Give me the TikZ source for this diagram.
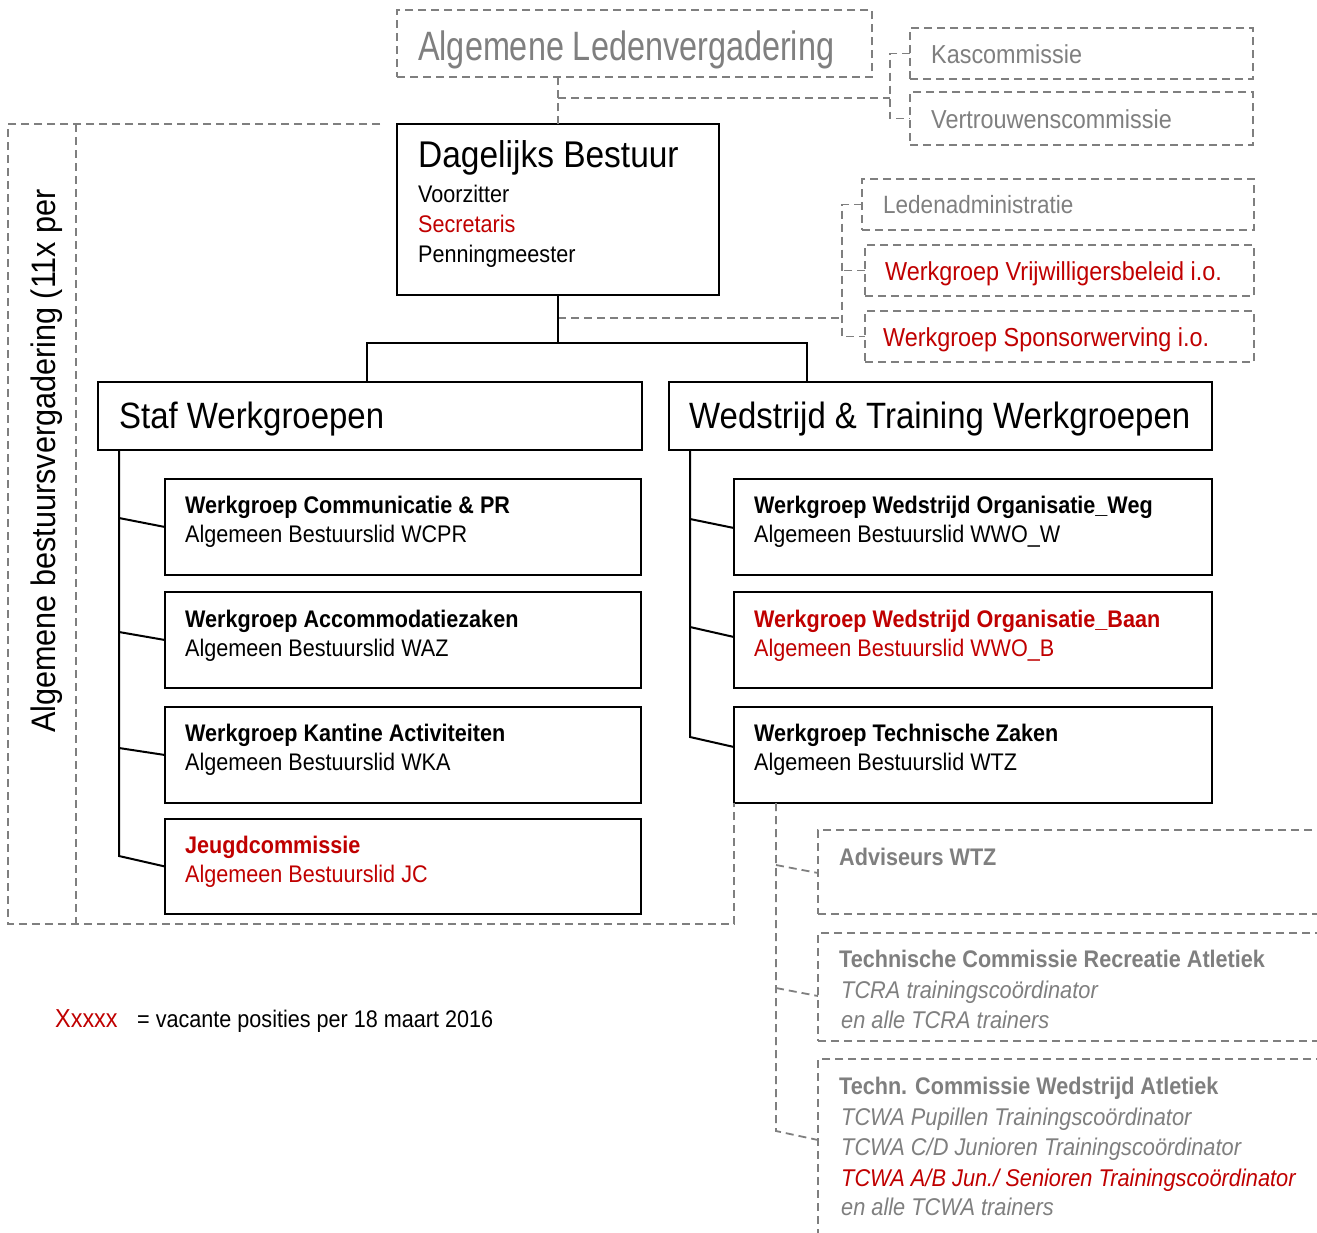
\documentclass[tikz,border=0pt]{standalone}
\usepackage{fontspec}
\setmainfont{Liberation Sans}[FakeStretch=0.9]
\newfontfamily\narrowfont{Liberation Sans}[FakeStretch=0.79]
\definecolor{lg}{HTML}{7F7F7F}
\definecolor{rd}{HTML}{C00000}
\begin{document}
\begin{tikzpicture}[x=1pt,y=-1pt,
  bx/.style={draw=black, line width=2.2pt, anchor=north west, inner sep=0pt, outer sep=0pt},
  dbx/.style={draw=lg, line width=1.8pt, dash pattern=on 8pt off 5pt, anchor=north west, inner sep=0pt, outer sep=0pt},
  ln/.style={draw=black, line width=2pt},
  dln/.style={draw=lg, line width=1.8pt, dash pattern=on 8pt off 5pt},
  tx/.style={anchor=base west, inner sep=0pt, font=\fontsize{24}{28}\selectfont},
  tb/.style={anchor=base west, inner sep=0pt, font=\fontsize{24}{28}\selectfont\bfseries},
  ti/.style={anchor=base west, inner sep=0pt, font=\fontsize{24.2}{28}\selectfont\itshape, text=lg},
  tm/.style={anchor=base west, inner sep=0pt, font=\fontsize{26}{30}\selectfont},
  tbig/.style={anchor=base west, inner sep=0pt, font=\fontsize{36.6}{40}\selectfont}]
\clip (0,0) rectangle (1317,1232);
\fill[white] (0,0) rectangle (1317,1232);

% top boxes
\node[dbx, minimum width=475pt, minimum height=67pt] (alv) at (397,10) {};
\node[anchor=base west, inner sep=0pt, text=lg, font=\narrowfont\fontsize{41}{44}\selectfont] (alvt) at (418,60) {Algemene Ledenvergadering};
\node[dbx, minimum width=343pt, minimum height=51pt] (kas) at (910,28) {};
\node[tm, text=lg] (kast) at (931,63) {Kascommissie};
\node[dbx, minimum width=343pt, minimum height=53pt] (vert) at (910,92) {};
\node[tm, text=lg] (vertt) at (931,128) {Vertrouwenscommissie};

% Dagelijks Bestuur
\node[bx, minimum width=322pt, minimum height=171pt] (db) at (397,124) {};
\node[tbig, font=\fontsize{37.2}{40}\selectfont] (dbt) at (418,167) {Dagelijks Bestuur};
\node[tx] (db1) at (418,202) {Voorzitter};
\node[tx, text=rd] (db2) at (418,232) {Secretaris};
\node[tx] (db3) at (418,262) {Penningmeester};

% right side groups
\node[dbx, minimum width=392pt, minimum height=51pt] (led) at (862,179) {};
\node[tm, text=lg, font=\fontsize{25}{30}\selectfont] (ledt) at (883,213) {Ledenadministratie};
\node[dbx, minimum width=389pt, minimum height=51pt] (vri) at (865,245) {};
\node[tm, text=rd] (vrit) at (885,280) {Werkgroep Vrijwilligersbeleid i.o.};
\node[dbx, minimum width=389pt, minimum height=51pt] (spo) at (865,311) {};
\node[tm, text=rd] (spot) at (883,346) {Werkgroep Sponsorwerving i.o.};

% main groups
\node[bx, minimum width=544pt, minimum height=68pt] (staf) at (98,382) {};
\node[tbig] (staft) at (119,428) {Staf Werkgroepen};
\node[bx, minimum width=543pt, minimum height=68pt] (wt) at (669,382) {};
\node[tbig] (wtt) at (689,428) {Wedstrijd \& Training Werkgroepen};

% staf items
\node[bx, minimum width=476pt, minimum height=96pt] (s1) at (165,479) {};
\node[tb] (s1a) at (185,513) {Werkgroep Communicatie \& PR};
\node[tx] (s1b) at (185,542) {Algemeen Bestuurslid WCPR};
\node[bx, minimum width=476pt, minimum height=96pt] (s2) at (165,592) {};
\node[tb] (s2a) at (185,627) {Werkgroep Accommodatiezaken};
\node[tx] (s2b) at (185,656) {Algemeen Bestuurslid WAZ};
\node[bx, minimum width=476pt, minimum height=96pt] (s3) at (165,707) {};
\node[tb] (s3a) at (185,741) {Werkgroep Kantine Activiteiten};
\node[tx] (s3b) at (185,770) {Algemeen Bestuurslid WKA};
\node[bx, minimum width=476pt, minimum height=95pt] (s4) at (165,819) {};
\node[tb, text=rd] (s4a) at (185,853) {Jeugdcommissie};
\node[tx, text=rd] (s4b) at (185,882) {Algemeen Bestuurslid JC};

% W&T items
\node[bx, minimum width=478pt, minimum height=96pt] (w1) at (734,479) {};
\node[tb] (w1a) at (754,513) {Werkgroep Wedstrijd Organisatie\_Weg};
\node[tx] (w1b) at (754,542) {Algemeen Bestuurslid WWO\_W};
\node[bx, minimum width=478pt, minimum height=96pt] (w2) at (734,592) {};
\node[tb, text=rd] (w2a) at (754,627) {Werkgroep Wedstrijd Organisatie\_Baan};
\node[tx, text=rd] (w2b) at (754,656) {Algemeen Bestuurslid WWO\_B};
\node[bx, minimum width=478pt, minimum height=96pt] (w3) at (734,707) {};
\node[tb] (w3a) at (754,741) {Werkgroep Technische Zaken};
\node[tx] (w3b) at (754,770) {Algemeen Bestuurslid WTZ};

% WTZ sub boxes
\node[dbx, minimum width=530pt, minimum height=84pt] (adv) at (818,830) {};
\node[tb, text=lg] (advt) at (839,865) {Adviseurs WTZ};
\node[dbx, minimum width=530pt, minimum height=108pt] (tcra) at (818,933) {};
\node[tb, text=lg] (tcra1) at (839,967) {Technische Commissie Recreatie Atletiek};
\node[ti] (tcra2) at (841,998) {TCRA trainingscoördinator};
\node[ti] (tcra3) at (841,1028) {en alle TCRA trainers};
\node[dbx, minimum width=530pt, minimum height=200pt] (tcwa) at (818,1059) {};
\node[tb, text=lg] (tcwa1) at (839,1094) {Techn. Commissie Wedstrijd Atletiek};
\node[ti] (tcwa2) at (841,1125) {TCWA Pupillen Trainingscoördinator};
\node[ti] (tcwa3) at (841,1155) {TCWA C/D Junioren Trainingscoördinator};
\node[ti, text=rd] (tcwa4) at (841,1186) {TCWA A/B Jun./ Senioren Trainingscoördinator};
\node[ti] (tcwa5) at (841,1215) {en alle TCWA trainers};

% rotated label
\node[anchor=base west, inner sep=0pt, rotate=90, font=\fontsize{34}{38}\selectfont] (abv) at (55,733) {Algemene bestuursvergadering (11x per};

% legend
\node[tx, text=rd, font=\fontsize{26}{30}\selectfont] (lx) at (55,1027) {Xxxxx};
\node[tx] (lt) at (137,1027) {= vacante posities per 18 maart 2016};

% coordinates
\coordinate (alvbr) at (890,98);
\coordinate (dbr) at (842,318);
\coordinate (jl) at (367,343);
\coordinate (jr) at (807,343);
\coordinate (sv0) at (119,450);
\coordinate (sv1) at (119,856);
\coordinate (wv0) at (690,450);
\coordinate (wv1) at (690,737);
\coordinate (zv0) at (776,803);
\coordinate (zv1) at (776,1131);

% dashed connectors top
\draw[dln] (db.north) -- (db.north |- alv.south);
\draw[dln] (db.north |- alvbr) -- (alvbr);
\draw[dln] (kas.west) -- ++(-20,0) |- (vert.west);
\draw[dln] (db.south |- dbr) -- (dbr);
\draw[dln] (led.west) -- ++(-20,0) |- (spo.west);
\draw[dln] (vri.west) -- (dbr |- vri.west);

% solid connectors
\draw[ln] (db.south) -- (db.south |- jl);
\draw[ln] (jl |- staf.north) -- (jl) -- (jr) -- (jr |- wt.north);
\draw[ln] (sv0) -- (sv1) -- (s4.west);
\draw[ln] (119,518) -- (s1.west);
\draw[ln] (119,632) -- (s2.west);
\draw[ln] (119,748) -- (s3.west);
\draw[ln] (wv0) -- (wv1) -- ([yshift=8pt]w3.west);
\draw[ln] (690,519) -- ([yshift=-1pt]w1.west);
\draw[ln] (690,627) -- ([yshift=3pt]w2.west);

% WTZ dashed
\draw[dln] (zv0) -- (zv1) -- (818,1140);
\draw[dln] (776,865) -- (818,873);
\draw[dln] (776,988) -- (818,996);

% big region
\draw[dln] (380,124) -- (8,124) -- (8,924) -- (w3.south west |- 0,924) -- (w3.south west);
\draw[dln] (76,124) -- (76,924);
\end{tikzpicture}
\end{document}
